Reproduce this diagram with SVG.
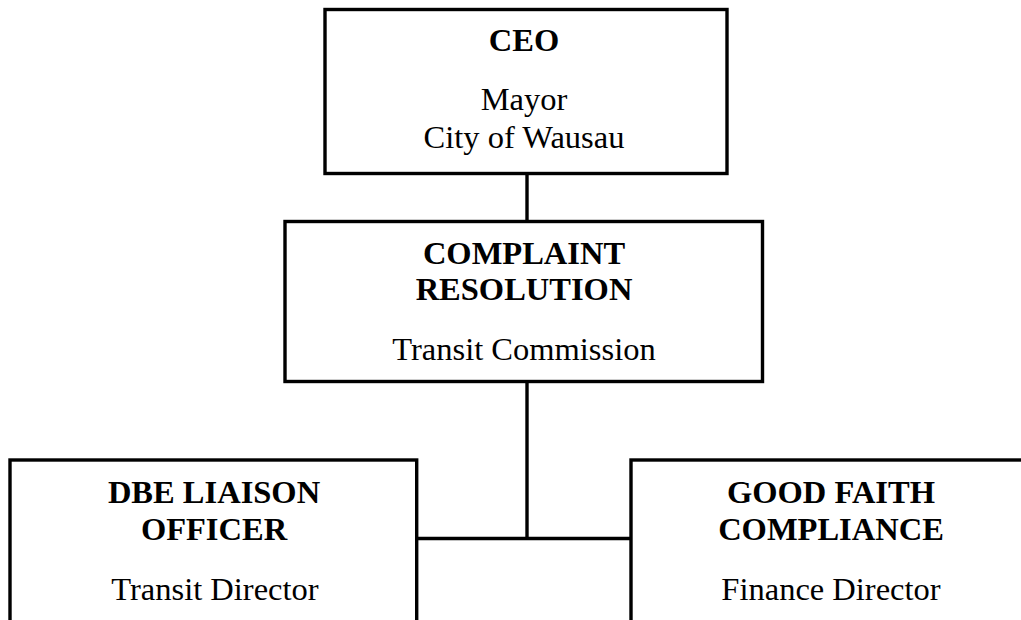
<svg xmlns="http://www.w3.org/2000/svg" width="1021" height="620" viewBox="0 0 1021 620">
<style>
.box{fill:#fff;stroke:#000;stroke-width:3.4}
.t{font-family:"Liberation Serif","Times New Roman",serif;font-size:32.5px;fill:#000;text-anchor:middle}
.b{font-weight:bold}
.c{stroke:#000;stroke-width:3.4;fill:none}
</style>
<rect width="1021" height="620" fill="#fff"/>
<g id="connectors">
<line class="c" x1="527" y1="173.5" x2="527" y2="221.5"/>
<line class="c" x1="527" y1="381.5" x2="527" y2="538.5"/>
<line class="c" x1="416.7" y1="538.5" x2="631" y2="538.5"/>
</g>
<g id="ceo">
<rect class="box" x="325" y="9.5" width="402" height="164"/>
<text class="t b" x="524" y="51">CEO</text>
<text class="t" x="524" y="110">Mayor</text>
<text class="t" x="524" y="148">City of Wausau</text>
</g>
<g id="complaint">
<rect class="box" x="285" y="221.5" width="477.5" height="160"/>
<text class="t b" x="524" y="263.5">COMPLAINT</text>
<text class="t b" x="524" y="300">RESOLUTION</text>
<text class="t" x="524" y="360">Transit Commission</text>
</g>
<g id="dbe">
<rect class="box" x="10" y="460" width="406.7" height="170"/>
<text class="t b" x="214" y="503">DBE LIAISON</text>
<text class="t b" x="214" y="540">OFFICER</text>
<text class="t" x="215" y="600">Transit Director</text>
</g>
<g id="goodfaith">
<rect class="box" x="631" y="460" width="400" height="170"/>
<text class="t b" x="831" y="503">GOOD FAITH</text>
<text class="t b" x="831" y="540">COMPLIANCE</text>
<text class="t" x="831" y="600">Finance Director</text>
</g>
</svg>
